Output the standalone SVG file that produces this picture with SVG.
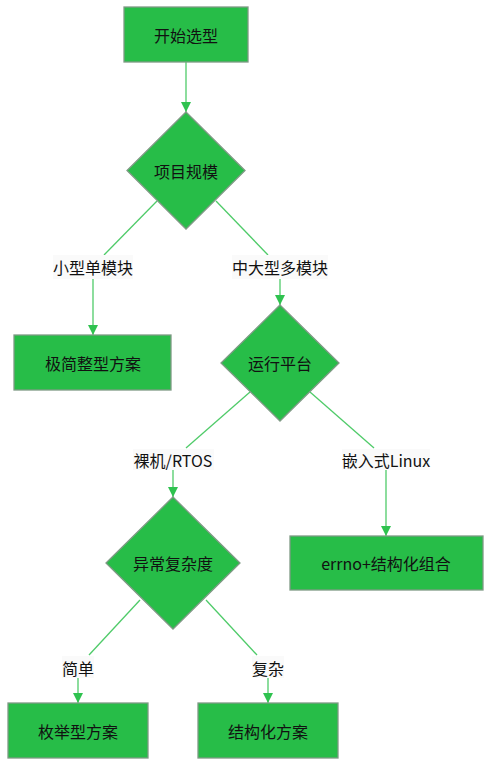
<svg xmlns="http://www.w3.org/2000/svg" width="491" height="766" viewBox="0 0 491 766">
<defs>
<style>
.n{fill:#27bd48;stroke:#7f9a85;stroke-width:1.3}
.t{font-family:"Microsoft YaHei","Noto Sans CJK SC",sans-serif;font-size:16px;fill:#111;text-anchor:middle;dominant-baseline:central}
.e{stroke:#4fcb69;stroke-width:1.3;fill:none}
.lb{fill:#fafafa}
</style>
<marker id="a" viewBox="0 0 10 10" refX="10" refY="5" markerWidth="10" markerHeight="10" markerUnits="userSpaceOnUse" orient="auto">
<path d="M0,0 L10,5 L0,10 Z" fill="#2fc24f"/>
</marker>
</defs>
<rect width="491" height="766" fill="#fff"/>
<g id="edges">
<path class="e" d="M186,62 V112" marker-end="url(#a)"/>
<path class="e" d="M157,201 L104,255"/>
<path class="e" d="M93,279 V335" marker-end="url(#a)"/>
<path class="e" d="M216,201 L268,255"/>
<path class="e" d="M280,279 V305" marker-end="url(#a)"/>
<path class="e" d="M250,392 L186,448"/>
<path class="e" d="M173,470 V497" marker-end="url(#a)"/>
<path class="e" d="M310,392 L374,448"/>
<path class="e" d="M386,470 V536" marker-end="url(#a)"/>
<path class="e" d="M140,600 L89,655"/>
<path class="e" d="M78,678 V703" marker-end="url(#a)"/>
<path class="e" d="M206,600 L257,655"/>
<path class="e" d="M268,678 V703" marker-end="url(#a)"/>
</g>
<g id="labels">
<rect class="lb" x="53" y="255" width="80" height="24"/><text class="t" x="93" y="267">小型单模块</text>
<rect class="lb" x="232" y="255" width="96" height="24"/><text class="t" x="280" y="267">中大型多模块</text>
<rect class="lb" x="133" y="449" width="81" height="21"/><text class="t" x="173" y="460">裸机/RTOS</text>
<rect class="lb" x="342" y="449" width="88" height="21"/><text class="t" x="386" y="460">嵌入式Linux</text>
<rect class="lb" x="62" y="656" width="32" height="22"/><text class="t" x="78" y="668">简单</text>
<rect class="lb" x="252" y="656" width="32" height="22"/><text class="t" x="268" y="668">复杂</text>
</g>
<g id="start"><rect class="n" x="124" y="7" width="124" height="55"/><text class="t" x="186" y="35">开始选型</text></g>
<g id="scale"><path class="n" d="M186,112 L245,170.5 L186,229 L127,170.5 Z"/><text class="t" x="186" y="171">项目规模</text></g>
<g id="minimal"><rect class="n" x="14" y="335" width="157" height="55"/><text class="t" x="93" y="363">极简整型方案</text></g>
<g id="platform"><path class="n" d="M280,305 L339,363 L280,421 L221,363 Z"/><text class="t" x="280" y="363">运行平台</text></g>
<g id="complexity"><path class="n" d="M173,497 L240,563 L173,629 L106,563 Z"/><text class="t" x="173" y="563">异常复杂度</text></g>
<g id="linux"><rect class="n" x="290" y="536" width="193" height="54"/><text class="t" x="386" y="563">errno+结构化组合</text></g>
<g id="enum"><rect class="n" x="8" y="703" width="140" height="55"/><text class="t" x="78" y="731">枚举型方案</text></g>
<g id="struct"><rect class="n" x="198" y="703" width="140" height="55"/><text class="t" x="268" y="731">结构化方案</text></g>
</svg>
